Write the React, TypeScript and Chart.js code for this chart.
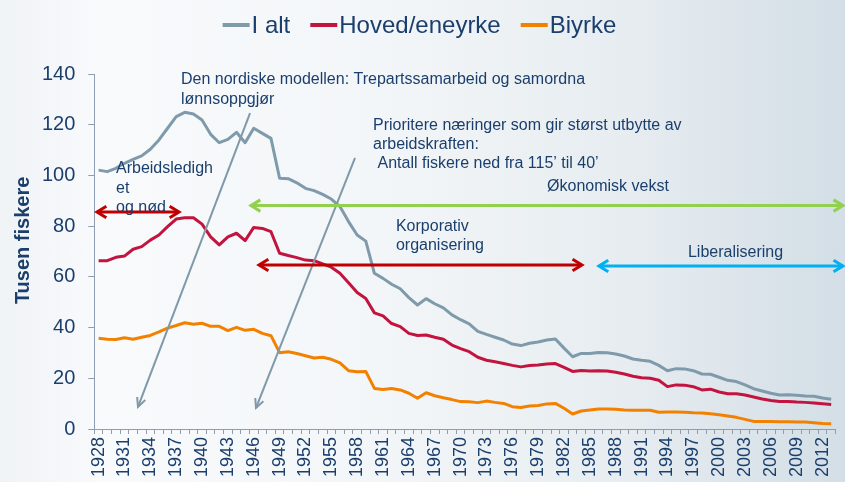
import React, { useEffect, useRef } from 'react';
import { Chart, registerables } from 'chart.js';

Chart.register(...registerables);

const years = [
  '1928','1929','1930','1931','1932','1933','1934','1935','1936','1937',
  '1938','1939','1940','1941','1942','1943','1944','1945','1946','1947',
  '1948','1949','1950','1951','1952','1953','1954','1955','1956','1957',
  '1958','1959','1960','1961','1962','1963','1964','1965','1966','1967',
  '1968','1969','1970','1971','1972','1973','1974','1975','1976','1977',
  '1978','1979','1980','1981','1982','1983','1984','1985','1986','1987',
  '1988','1989','1990','1991','1992','1993','1994','1995','1996','1997',
  '1998','1999','2000','2001','2002','2003','2004','2005','2006','2007',
  '2008','2009','2010','2011','2012','2013',
];

const shownYearLabels = [
  '1928','1931','1934','1937','1940','1943','1946','1949','1952','1955',
  '1958','1961','1964','1967','1970','1973','1976','1979','1982','1985',
  '1988','1991','1994','1997','2000','2003','2006','2009','2012',
];

const iAlt = [
  102.1, 101.5, 102.8, 104.8, 106.3, 107.7, 110.3, 114, 118.6, 123.2,
  124.9, 124.2, 121.9, 116.2, 112.9, 114.2, 117, 112.9, 118.6, 116.6,
  114.6, 98.9, 98.7, 97.1, 94.9, 94, 92.5, 90.7, 87.7, 81.8,
  76.5, 74.1, 61.4, 59.4, 57.1, 55.3, 51.8, 48.9, 51.4, 49.4,
  47.8, 45, 43.1, 41.5, 38.5, 37.3, 36.2, 35.1, 33.5, 32.9,
  33.8, 34.3, 35.1, 35.5, 31.9, 28.5, 29.8, 29.8, 30.2, 30.1,
  29.6, 28.8, 27.6, 27.1, 26.7, 25.1, 23, 23.8, 23.7, 23,
  21.7, 21.6, 20.4, 19.2, 18.7, 17.4, 15.9, 15, 14.1, 13.4,
  13.5, 13.3, 13, 12.9, 12.2, 11.7,
];

const hovedEneyrke = [
  66.4, 66.4, 67.7, 68.2, 70.9, 71.9, 74.5, 76.5, 79.8, 82.8,
  83.3, 83.3, 80.8, 75.8, 72.6, 75.8, 77.2, 74.3, 79.5, 79.1,
  77.8, 69.3, 68.4, 67.6, 66.6, 66.4, 65.1, 63.8, 61.4, 57.7,
  53.8, 51.5, 45.8, 44.6, 41.6, 40.4, 37.7, 36.9, 37.1, 36.2,
  35.4, 33.1, 31.7, 30.5, 28.3, 27.1, 26.5, 25.8, 25.1, 24.5,
  25, 25.2, 25.6, 25.8, 24.3, 22.7, 23.1, 22.9, 23, 22.9,
  22.4, 21.7, 20.8, 20.2, 20, 19.2, 16.7, 17.4, 17.3, 16.7,
  15.4, 15.7, 14.6, 13.9, 13.9, 13.4, 12.6, 11.8, 11.2, 10.8,
  10.8, 10.6, 10.5, 10.3, 10, 9.7,
];

const biyrke = [
  35.8, 35.4, 35.3, 36, 35.4, 36.2, 36.9, 38.3, 39.8, 40.8,
  41.9, 41.3, 41.7, 40.5, 40.5, 38.8, 40.1, 38.9, 39.3, 37.7,
  36.8, 30.1, 30.5, 29.8, 28.9, 28, 28.3, 27.5, 26.1, 23,
  22.6, 22.7, 16, 15.6, 16, 15.4, 14.1, 12.1, 14.3, 13.1,
  12.3, 11.6, 10.8, 10.7, 10.4, 11, 10.5, 10.1, 8.8, 8.5,
  9.1, 9.3, 9.9, 10.1, 8.2, 5.9, 7.1, 7.5, 7.9, 7.9,
  7.8, 7.5, 7.4, 7.4, 7.4, 6.6, 6.7, 6.7, 6.6, 6.4,
  6.3, 6, 5.6, 5.1, 4.6, 3.8, 3, 3, 3, 2.9,
  2.9, 2.8, 2.8, 2.5, 2.2, 2.1,
];

const seriesNames = ['I alt', 'Hoved/eneyrke', 'Biyrke'];
const yTicks = [0, 20, 40, 60, 80, 100, 120, 140];

// annotation texts in data space (year, value)
const annoTexts = [
  { text: 'Den nordiske modellen: Trepartssamarbeid og samordna', year: 1937.56, value: 137.6 },
  { text: 'lønnsoppgjør', year: 1937.56, value: 129.9 },
  { text: 'Prioritere næringer som gir størst utbytte av', year: 1959.84, value: 119.5 },
  { text: 'arbeidskraften:', year: 1959.84, value: 112.0 },
  { text: ' Antall fiskere ned fra 115’ til 40’', year: 1959.84, value: 104.5 },
  { text: 'Økonomisk vekst', year: 1980.03, value: 95.4 },
  { text: 'Arbeidsledigh', year: 1930.02, value: 102.5 },
  { text: 'et', year: 1930.02, value: 95.0 },
  { text: 'og nød', year: 1930.02, value: 87.5 },
  { text: 'Korporativ', year: 1962.5, value: 79.7 },
  { text: 'organisering', year: 1962.5, value: 72.2 },
  { text: 'Liberalisering', year: 1996.38, value: 69.4 },
];

// arrows in data space
const annoArrows = [
  { from: [1945.57, 124.6], to: [1932.57, 8.7], color: '#7F99A9', width: 2, both: false },
  { from: [1957.75, 106.9], to: [1946.26, 8.3], color: '#7F99A9', width: 2, both: false },
  { from: [1945.68, 88.1], to: [2014.36, 88.1], color: '#92D050', width: 3, both: true },
  { from: [1927.81, 85.6], to: [1937.33, 85.6], color: '#C00000', width: 3, both: true },
  { from: [1946.61, 64.7], to: [1984.08, 64.7], color: '#C00000', width: 3, both: true },
  { from: [1986.05, 64.3], to: [2014.36, 64.3], color: '#00B0F0', width: 3, both: true },
];

const TEXT = '#1B3F6D';
const AXIS = '#8E9DB2';
const FONT = '"Liberation Sans", Arial, sans-serif';

const legendPlugin = {
  id: 'lineLegend',
  afterDraw(chart: any) {
    const ctx = chart.ctx;
    ctx.save();
    ctx.font = `24px ${FONT}`;
    ctx.textBaseline = 'middle';
    ctx.textAlign = 'left';
    const items = chart.data.datasets.map((d: any) => ({
      text: d.label,
      color: d.borderColor,
      w: ctx.measureText(d.label).width,
    }));
    const mark = 27, gap = 2, between = 20;
    const total = items.reduce((s: number, it: any) => s + mark + gap + it.w, 0) + between * (items.length - 1);
    let x = chart.width / 2 - 3 - total / 2;
    const y = 25;
    items.forEach((it: any) => {
      ctx.fillStyle = it.color;
      ctx.fillRect(x, y - 2, mark, 4);
      x += mark + gap;
      ctx.fillStyle = TEXT;
      ctx.fillText(it.text, x, y + 1);
      x += it.w + between;
    });
    ctx.restore();
  },
};

function drawHead(ctx: any, tx: number, ty: number, fx: number, fy: number, len: number, ang: number) {
  const a = Math.atan2(fy - ty, fx - tx);
  ctx.beginPath();
  ctx.moveTo(tx + len * Math.cos(a + ang), ty + len * Math.sin(a + ang));
  ctx.lineTo(tx, ty);
  ctx.lineTo(tx + len * Math.cos(a - ang), ty + len * Math.sin(a - ang));
  ctx.stroke();
}

const annoPlugin = {
  id: 'annos',
  afterDatasetsDraw(chart: any) {
    const { ctx, scales } = chart;
    const xs = scales.x, ys = scales.y;
    const px = (yr: number) => xs.getPixelForValue(yr - 1928);
    const py = (v: number) => ys.getPixelForValue(v);
    ctx.save();
    annoArrows.forEach((a) => {
      const x1 = px(a.from[0]), y1 = py(a.from[1]);
      const x2 = px(a.to[0]), y2 = py(a.to[1]);
      ctx.strokeStyle = a.color;
      ctx.lineWidth = a.width;
      ctx.lineCap = 'butt';
      ctx.lineJoin = 'miter';
      ctx.beginPath();
      ctx.moveTo(x1, y1);
      ctx.lineTo(x2, y2);
      ctx.stroke();
      const len = a.both ? 11 : 10;
      const ang = a.both ? 0.55 : 0.45;
      drawHead(ctx, x2, y2, x1, y1, len, ang);
      if (a.both) drawHead(ctx, x1, y1, x2, y2, len, ang);
    });
    ctx.font = `16px ${FONT}`;
    ctx.fillStyle = TEXT;
    ctx.textBaseline = 'middle';
    ctx.textAlign = 'left';
    annoTexts.forEach((t) => {
      ctx.fillText(t.text, px(t.year), py(t.value));
    });
    ctx.restore();
  },
};

export default function App() {
  const ref = useRef<HTMLCanvasElement | null>(null);
  useEffect(() => {
    document.body.style.margin = '0';
    const canvas = ref.current;
    if (!canvas) return;
    const chart = new Chart(canvas, {
      type: 'line',
      data: {
        labels: years,
        datasets: [
          { label: seriesNames[0], data: iAlt, borderColor: '#7F9AAA', backgroundColor: '#7F9AAA' },
          { label: seriesNames[1], data: hovedEneyrke, borderColor: '#C3133F', backgroundColor: '#C3133F' },
          { label: seriesNames[2], data: biyrke, borderColor: '#F28100', backgroundColor: '#F28100' },
        ].map((d) => ({
          ...d,
          borderWidth: 3,
          pointRadius: 0,
          pointHoverRadius: 0,
          tension: 0,
          fill: false,
          borderJoinStyle: 'round' as const,
        })),
      },
      options: {
        animation: false,
        responsive: true,
        maintainAspectRatio: false,
        layout: { padding: { top: 74, right: 9.5, left: 0, bottom: 0 } },
        plugins: {
          legend: { display: false },
          tooltip: { enabled: false },
          title: { display: false },
        },
        scales: {
          x: {
            type: 'category',
            offset: true,
            afterFit: (scale: any) => {
              scale.height = 53;
              scale.paddingLeft = 0;
              scale.paddingRight = 0;
            },
            grid: { drawOnChartArea: false, drawTicks: true, tickLength: 5, color: AXIS, offset: true },
            border: { color: AXIS, width: 1 },
            ticks: {
              autoSkip: false,
              maxRotation: 90,
              minRotation: 90,
              padding: 3,
              color: TEXT,
              font: { family: FONT, size: 18 },
              callback: function (this: any, _v: any, idx: number) {
                const lab = years[idx];
                return shownYearLabels.includes(lab) ? lab : '';
              },
            },
          },
          y: {
            min: 0,
            max: 140,
            afterFit: (scale: any) => {
              scale.width = 94.3;
              scale.paddingTop = 0;
              scale.paddingBottom = 0;
            },
            afterBuildTicks: (scale: any) => { scale.ticks = yTicks.map((v) => ({ value: v })); },
            grid: { drawOnChartArea: false, drawTicks: true, tickLength: 6, color: AXIS },
            border: { color: AXIS, width: 1 },
            ticks: {
              padding: 13,
              color: TEXT,
              font: { family: FONT, size: 20 },
            },
            title: {
              display: true,
              text: '    Tusen fiskere',
              color: TEXT,
              font: { family: FONT, size: 20, weight: 'bold' },
              padding: { top: 11.5, bottom: 0 },
            },
          },
        },
      },
      plugins: [legendPlugin, annoPlugin],
    });
    return () => chart.destroy();
  }, []);

  return (
    <div
      style={{
        position: 'relative',
        width: 845,
        height: 482,
        overflow: 'hidden',
        background:
          'linear-gradient(90deg, #f0f3f6 0%, #f8fafc 12%, #f3f6f8 45%, #e6ecf0 75%, #d3dee6 100%)',
      }}
    >
      <canvas ref={ref} />
    </div>
  );
}
